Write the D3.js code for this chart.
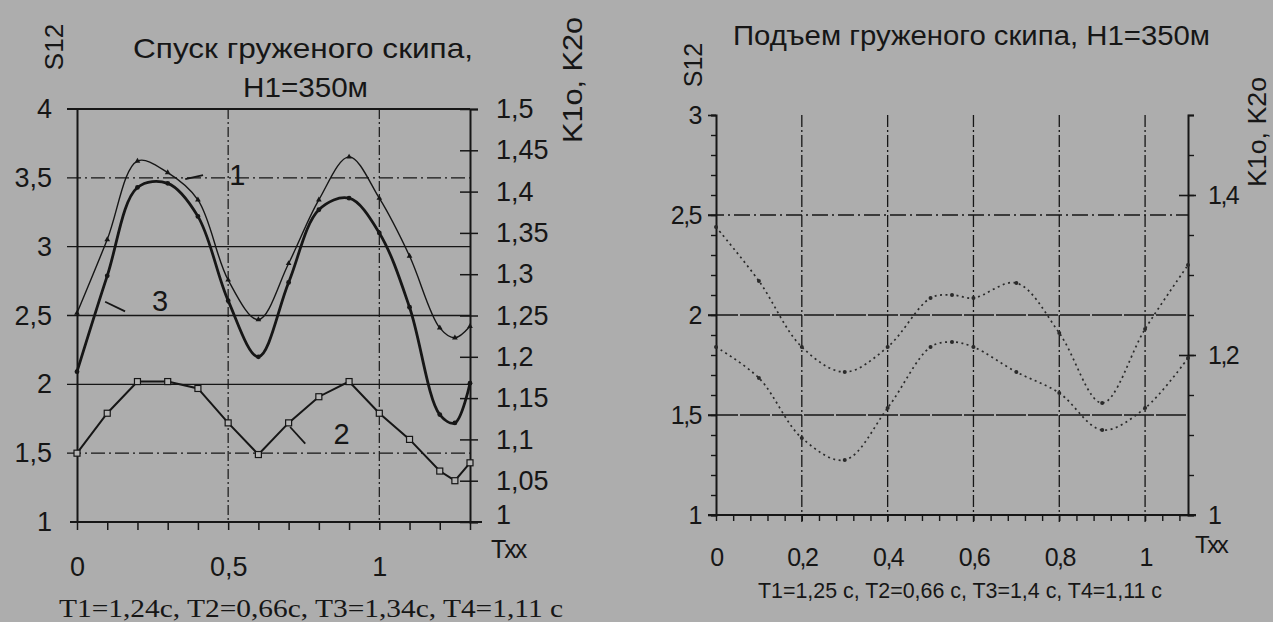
<!DOCTYPE html>
<html>
<head>
<meta charset="utf-8">
<script src="https://cdn.jsdelivr.net/npm/d3@7"></script>
<style>
  html, body { margin: 0; padding: 0; background: #adadad; }
  svg { display: block; }
  text { font-family: "Liberation Sans", Arial, sans-serif; fill: #161616; }
</style>
</head>
<body>
<div id="chart"></div>
<script>
// ---- left chart: descent of loaded skip ----
const tLeft = [0, 0.1, 0.2, 0.3, 0.4, 0.5, 0.6, 0.7, 0.8, 0.9, 1.0, 1.1, 1.2, 1.25, 1.3];
const curve1Left = [1.253, 1.342, 1.437, 1.423, 1.39, 1.293, 1.245, 1.313, 1.39, 1.442, 1.392, 1.322, 1.235, 1.223, 1.237]; // K
const curve3Left = [1.182, 1.298, 1.405, 1.41, 1.37, 1.268, 1.2, 1.29, 1.378, 1.392, 1.35, 1.26, 1.13, 1.12, 1.168];     // K
const curve2Left = [1.5, 1.79, 2.02, 2.02, 1.97, 1.72, 1.49, 1.72, 1.91, 2.02, 1.79, 1.6, 1.37, 1.3, 1.43];               // S12
const leftYTicks = [1, 1.5, 2, 2.5, 3, 3.5, 4];
const leftKTicks = [1, 1.05, 1.1, 1.15, 1.2, 1.25, 1.3, 1.35, 1.4, 1.45, 1.5];
const leftXTicks = [0, 0.5, 1];

// ---- right chart: lifting of loaded skip ----
const tRight = [0, 0.1, 0.2, 0.3, 0.4, 0.5, 0.55, 0.6, 0.7, 0.8, 0.9, 1.0, 1.1];
const upperRight = [2.44, 2.17, 1.84, 1.715, 1.84, 2.085, 2.1, 2.085, 2.16, 1.91, 1.56, 1.93, 2.25];
const lowerRight = [1.84, 1.685, 1.385, 1.275, 1.535, 1.84, 1.865, 1.84, 1.715, 1.61, 1.425, 1.535, 1.785];
const rightYTicks = [1, 1.5, 2, 2.5, 3];
const rightKTicks = [1, 1.2, 1.4];
const rightXTicks = [0, 0.2, 0.4, 0.6, 0.8, 1];

const W = 1273, H = 622;
const ink = "#161616";
const comma = d => String(d).replace(".", ",");

const svg = d3.select("#chart").append("svg")
  .attr("width", W).attr("height", H);

svg.append("rect").attr("width", W).attr("height", H).attr("fill", "#adadad");

// ================= LEFT =================
const xL = d3.scaleLinear().domain([0, 1.3]).range([77, 470]);
const yL = d3.scaleLinear().domain([1, 4]).range([522, 109]);
const kL = d3.scaleLinear().domain([1, 1.5]).range([522, 109]);

const gL = svg.append("g");

// horizontal grid
const dashDot = "14,4,2,4";
gL.selectAll("line.hg")
  .data([4, 3.5, 3, 2.5, 2, 1.5])
  .join("line")
    .attr("x1", 67).attr("x2", 470)
    .attr("y1", d => yL(d)).attr("y2", d => yL(d))
    .attr("stroke", ink)
    .attr("stroke-width", d => d === 4 ? 2 : 1.3)
    .attr("stroke-dasharray", d => (d === 3.5 || d === 1.5) ? dashDot : null);

// vertical grid
gL.selectAll("line.vg")
  .data([0.5, 1])
  .join("line")
    .attr("x1", d => xL(d)).attr("x2", d => xL(d))
    .attr("y1", 109).attr("y2", 522)
    .attr("stroke", ink).attr("stroke-width", 1.2)
    .attr("stroke-dasharray", "10,3,2,3");

// left axis
gL.append("g")
  .attr("transform", "translate(77,0)")
  .call(d3.axisLeft(yL).tickValues(leftYTicks).tickSize(0).tickPadding(25).tickFormat(comma))
  .call(g => g.select(".domain").attr("stroke", ink).attr("stroke-width", 2))
  .call(g => g.selectAll("text").attr("font-size", 27).attr("fill", ink));

// bottom axis (minor ticks)
gL.append("g")
  .attr("transform", "translate(0,522)")
  .call(d3.axisBottom(xL).tickValues(d3.range(0, 1.31, 0.1)).tickSize(8).tickFormat(""))
  .call(g => g.select(".domain").remove())
  .call(g => g.selectAll("line").attr("stroke", ink).attr("stroke-width", 1.5));
gL.append("line").attr("x1", 70).attr("x2", 482).attr("y1", 522).attr("y2", 522)
  .attr("stroke", ink).attr("stroke-width", 2);
gL.append("g")
  .attr("transform", "translate(0,522)")
  .call(d3.axisBottom(xL).tickValues(leftXTicks).tickSize(0).tickPadding(35).tickFormat(comma))
  .call(g => g.select(".domain").remove())
  .call(g => g.selectAll("text").attr("font-size", 27).attr("fill", ink));

// right axis
gL.append("g")
  .attr("transform", "translate(470,0)")
  .call(d3.axisRight(kL).tickValues(leftKTicks).tickSize(8).tickPadding(18).tickFormat(comma))
  .call(g => g.select(".domain").attr("stroke", ink).attr("stroke-width", 2))
  .call(g => g.selectAll(".tick line").attr("x1", -10).attr("stroke", ink).attr("stroke-width", 1.5))
  .call(g => g.selectAll("text").attr("font-size", 27).attr("fill", ink)
    .attr("dy", d => d === 1 ? "0.05em" : "0.32em"));

// curves
const lineK1 = d3.line().x((d, i) => xL(tLeft[i])).y(d => kL(d)).curve(d3.curveCatmullRom.alpha(0.5));
const lineS = d3.line().x((d, i) => xL(tLeft[i])).y(d => yL(d));

gL.append("path").datum(curve1Left).attr("d", lineK1)
  .attr("fill", "none").attr("stroke", ink).attr("stroke-width", 1.4);
gL.append("path").datum(curve3Left).attr("d", lineK1)
  .attr("fill", "none").attr("stroke", ink).attr("stroke-width", 2.8);
gL.append("path").datum(curve2Left).attr("d", lineS)
  .attr("fill", "none").attr("stroke", ink).attr("stroke-width", 2);

gL.selectAll("path.m1").data(curve1Left).join("path")
  .attr("d", d3.symbol(d3.symbolTriangle, 14))
  .attr("transform", (d, i) => `translate(${xL(tLeft[i])},${kL(d)})`)
  .attr("fill", ink);
gL.selectAll("circle.m3").data(curve3Left).join("circle")
  .attr("cx", (d, i) => xL(tLeft[i])).attr("cy", d => kL(d)).attr("r", 2.4)
  .attr("fill", ink);
gL.selectAll("rect.m2").data(curve2Left).join("rect")
  .attr("x", (d, i) => xL(tLeft[i]) - 3).attr("y", d => yL(d) - 3)
  .attr("width", 6).attr("height", 6)
  .attr("fill", "#b5b5b5").attr("stroke", ink).attr("stroke-width", 1.2);

// curve labels with leaders
const leftLabels = [
  { t: "1", x: 0.53, y: 3.45, lx1: 0.358, ly1: 3.49, lx2: 0.417, ly2: 3.52 },
  { t: "3", x: 0.275, y: 2.53, lx1: 0.093, ly1: 2.6, lx2: 0.159, ly2: 2.53 },
  { t: "2", x: 0.875, y: 1.57, lx1: 0.705, ly1: 1.69, lx2: 0.755, ly2: 1.57 }
];
leftLabels.forEach(l => {
  gL.append("line")
    .attr("x1", xL(l.lx1)).attr("y1", yL(l.ly1))
    .attr("x2", xL(l.lx2)).attr("y2", yL(l.ly2))
    .attr("stroke", ink).attr("stroke-width", 1.8);
  gL.append("text").attr("x", xL(l.x)).attr("y", yL(l.y))
    .attr("text-anchor", "middle").attr("font-size", 29).text(l.t);
});

// titles and axis names
gL.append("text").attr("x", 133).attr("y", 58).attr("font-size", 28)
  .attr("textLength", 340).attr("lengthAdjust", "spacingAndGlyphs")
  .text("Спуск груженого скипа,");
gL.append("text").attr("x", 243).attr("y", 97).attr("font-size", 28)
  .attr("textLength", 125).attr("lengthAdjust", "spacingAndGlyphs").text("H1=350м");
gL.append("text").attr("transform", "translate(63,47) rotate(-90)")
  .attr("text-anchor", "middle").attr("font-size", 26).text("S12");
gL.append("text").attr("transform", "translate(582,80) rotate(-90)")
  .attr("text-anchor", "middle").attr("font-size", 28)
  .attr("textLength", 126).attr("lengthAdjust", "spacingAndGlyphs").text("K1o, K2o");
gL.append("text").attr("x", 491).attr("y", 558).attr("font-size", 25)
  .attr("letter-spacing", -2).text("Txx");
gL.append("text").attr("x", 59).attr("y", 617).attr("font-size", 26)
  .style("font-family", "'Liberation Serif', 'Times New Roman', serif")
  .attr("textLength", 504).attr("lengthAdjust", "spacingAndGlyphs")
  .text("T1=1,24c, T2=0,66c, T3=1,34c, T4=1,11 c");

// ================= RIGHT =================
const xR = d3.scaleLinear().domain([0, 1.1]).range([716, 1188]);
const yR = d3.scaleLinear().domain([1, 3]).range([515, 115]);
const kR = d3.scaleLinear().domain([1, 1.5]).range([515, 115]);

const gR = svg.append("g");

gR.selectAll("line.hg")
  .data([2.5, 2, 1.5])
  .join("line")
    .attr("x1", 708).attr("x2", 1188)
    .attr("y1", d => yR(d)).attr("y2", d => yR(d))
    .attr("stroke", ink).attr("stroke-width", 1.4)
    .attr("stroke-dasharray", d => d === 2.5 ? "16,4,2,4" : "30,2");

gR.selectAll("line.vg")
  .data([0.2, 0.4, 0.6, 0.8, 1])
  .join("line")
    .attr("x1", d => xR(d)).attr("x2", d => xR(d))
    .attr("y1", 115).attr("y2", 522)
    .attr("stroke", ink).attr("stroke-width", 1.3)
    .attr("stroke-dasharray", "12,3,2,3");

// left axis
gR.append("g")
  .attr("transform", "translate(716,0)")
  .call(d3.axisLeft(yR).tickValues(d3.range(1, 3.01, 0.1)).tickSize(5).tickFormat(""))
  .call(g => g.select(".domain").attr("stroke", ink).attr("stroke-width", 2))
  .call(g => g.selectAll(".tick line").attr("stroke", ink).attr("stroke-width", 1.4));
gR.append("g")
  .attr("transform", "translate(716,0)")
  .call(d3.axisLeft(yR).tickValues(rightYTicks).tickSize(8).tickPadding(7).tickFormat(comma))
  .call(g => g.select(".domain").remove())
  .call(g => g.selectAll(".tick line").attr("stroke", ink).attr("stroke-width", 1.6))
  .call(g => g.selectAll("text").attr("font-size", 25).attr("fill", ink)
    .attr("letter-spacing", -1.5));

// bottom axis
gR.append("g")
  .attr("transform", "translate(0,515)")
  .call(d3.axisBottom(xR).tickValues(d3.range(0, 1.1, 0.04)).tickSize(6).tickFormat(""))
  .call(g => g.select(".domain").remove())
  .call(g => g.selectAll(".tick line").attr("stroke", ink).attr("stroke-width", 1.4));
gR.append("line").attr("x1", 708).attr("x2", 1196).attr("y1", 515).attr("y2", 515)
  .attr("stroke", ink).attr("stroke-width", 2);
gR.append("g")
  .attr("transform", "translate(0,515)")
  .call(d3.axisBottom(xR).tickValues(rightXTicks).tickSize(0).tickPadding(33).tickFormat(comma))
  .call(g => g.select(".domain").remove())
  .call(g => g.selectAll("text").attr("font-size", 25).attr("fill", ink)
    .attr("letter-spacing", -1.5));

// right axis
gR.append("g")
  .attr("transform", "translate(1188,0)")
  .call(d3.axisRight(kR).tickValues(d3.range(1, 1.51, 0.05)).tickSize(6).tickFormat(""))
  .call(g => g.select(".domain").attr("stroke", ink).attr("stroke-width", 2))
  .call(g => g.selectAll(".tick line").attr("stroke", ink).attr("stroke-width", 1.4));
gR.append("g")
  .attr("transform", "translate(1188,0)")
  .call(d3.axisRight(kR).tickValues(rightKTicks).tickSize(8).tickPadding(12).tickFormat(comma))
  .call(g => g.select(".domain").remove())
  .call(g => g.selectAll(".tick line").attr("x1", -9).attr("stroke", ink).attr("stroke-width", 1.6))
  .call(g => g.selectAll("text").attr("font-size", 25).attr("fill", ink)
    .attr("letter-spacing", -1.5));

// curves
const lineR = d3.line().x((d, i) => xR(tRight[i])).y(d => yR(d)).curve(d3.curveCatmullRom.alpha(0.5));
[upperRight, lowerRight].forEach(series => {
  gR.append("path").datum(series).attr("d", lineR)
    .attr("fill", "none").attr("stroke", "#2a2a2a").attr("stroke-width", 1.7)
    .attr("stroke-dasharray", "2,3.5");
  gR.selectAll(null).data(series).join("circle")
    .attr("cx", (d, i) => xR(tRight[i])).attr("cy", d => yR(d)).attr("r", 2)
    .attr("fill", "#2a2a2a");
});

// titles and axis names
gR.append("text").attr("x", 733).attr("y", 45).attr("font-size", 27)
  .attr("textLength", 477).attr("lengthAdjust", "spacingAndGlyphs")
  .text("Подъем груженого скипа, H1=350м");
gR.append("text").attr("transform", "translate(702,65) rotate(-90)")
  .attr("text-anchor", "middle").attr("font-size", 25).text("S12");
gR.append("text").attr("transform", "translate(1266,132) rotate(-90)")
  .attr("text-anchor", "middle").attr("font-size", 25)
  .attr("textLength", 110).attr("lengthAdjust", "spacingAndGlyphs").text("K1o, K2o");
gR.append("text").attr("x", 1195).attr("y", 553).attr("font-size", 24)
  .attr("letter-spacing", -2.5).text("Txx");
gR.append("text").attr("x", 758).attr("y", 598).attr("font-size", 22)
  .attr("textLength", 404).attr("lengthAdjust", "spacingAndGlyphs")
  .text("T1=1,25 c, T2=0,66 c, T3=1,4 c, T4=1,11 c");
</script>
</body>
</html>
